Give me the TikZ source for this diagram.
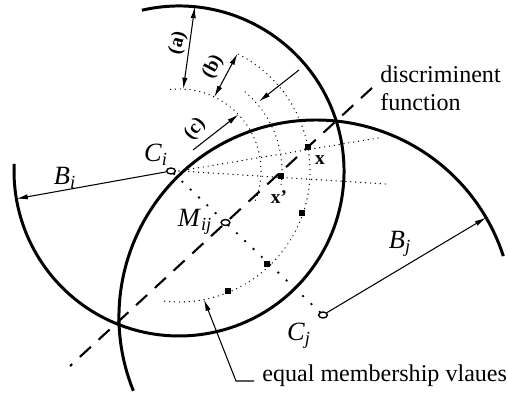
\documentclass[tikz,border=0pt]{standalone}
\usepackage{fontspec}
\setmainfont{Liberation Serif}
\usetikzlibrary{arrows.meta, positioning, shapes.geometric, calc}
\newcommand{\clbl}[2]{\textit{#1}\textsubscript{\textit{#2}}}

\begin{document}
\begin{tikzpicture}[x=0.02cm, y=0.02cm,
  boundary/.style={line width=1.7pt},
  dotarc/.style={line width=0.8pt, line cap=round, dash pattern=on 0pt off 2.8pt},
  centreline/.style={line width=1.5pt, line cap=round, dash pattern=on 0pt off 6.5pt},
  discrim/.style={line width=1.2pt, dash pattern=on 8.5pt off 6pt},
  dimarrow/.style={line width=0.6pt, {Latex[length=6.5pt,width=3pt]}-{Latex[length=6.5pt,width=3pt]}},
  ptarrow/.style={line width=0.6pt, -{Latex[length=6.5pt,width=3pt]}},
  centre/.style={draw, ellipse, line width=0.8pt, fill=white, minimum width=5pt, minimum height=3.4pt, inner sep=0pt},
  sample/.style={fill, rectangle, minimum size=3.6pt, inner sep=0pt},
  lettr/.style={font=\fontsize{11}{13}\selectfont\bfseries, inner sep=0pt},
  mathlbl/.style={font=\fontsize{15}{17}\selectfont, inner sep=0pt},
  caption/.style={font=\fontsize{13.7}{16}\selectfont, inner sep=0pt, align=left}
]
\useasboundingbox (0,0) rectangle (508,394);

% circle centres
\coordinate (Oi) at (179,223);
\coordinate (Oj) at (316,77);

% class boundaries
\draw[boundary] (Oi) ++(103:165) arc[start angle=103, end angle=-182.5, radius=165];
\draw[boundary] (Oj) ++(202:197) arc[start angle=202, end angle=18, radius=197];

% dotted contours and rays
\draw[dotarc] (Oi) ++(96:82) arc[start angle=96, end angle=-24, radius=82];
\draw[dotarc] (Oi) ++(50:103) arc[start angle=50, end angle=-8, radius=103];
\draw[dotarc] (Oi) ++(63:131) arc[start angle=63, end angle=-97, radius=131];
\draw[dotarc] (Oi) -- ++(9.4:203);
\draw[dotarc] (Oi) -- ++(-3.6:207);

% discriminent function
\coordinate (D1) at (372,306);
\coordinate (D2) at (70,28);
\draw[discrim] (D1) -- (D2);

% centres and samples
\node[centre] (Ci) at (171,223) {};
\node[centre] (Cj) at (323,79) {};
\node[centre] (Mij) at (225.5,171.5) {};
\node[sample] (px) at (308,247) {};
\node[sample] (pxp) at (281,218) {};
\node[sample] (p3) at (302,181) {};
\node[sample] (p4) at (267,130) {};
\node[sample] (p5) at (228,103) {};

\draw[centreline] (Ci) -- (Mij) -- (Cj);

% radii
\draw[ptarrow] (Ci) -- ($(Oi)+(189.7:165)$);
\draw[ptarrow] (Cj) -- ($(Oj)+(30.3:197)$);

% widths (a) (b) (c)
\draw[dimarrow] ($(Oi)+(87:82)$) -- ($(Oi)+(84.5:165)$);
\draw[dimarrow] ($(Oi)+(64.5:82)$) -- ($(Oi)+(63.5:131)$);
\coordinate (c1) at (193,244);
\coordinate (c2) at (299,324);
\draw[ptarrow] (c1) -- ($(Oi)+(43.5:82)$);
\draw[ptarrow] (c2) -- ($(Oi)+(41:106)$);

\node[lettr, rotate=75] (la) at (178,351) {(a)};
\node[lettr, rotate=62] (lb) at (213,327) {(b)};
\node[lettr, rotate=50] (lc) at (195,265) {(c)};

% labels
\node[mathlbl] (CiL) at (156,239) {\clbl{C}{i}};
\node[mathlbl] (BiL) at (65,216) {\clbl{B}{i}};
\node[mathlbl] (MijL) at (195,172) {\clbl{M}{ij}};
\node[mathlbl] (CjL) at (299,58) {\clbl{C}{j}};
\node[mathlbl] (BjL) at (400,150) {\clbl{B}{j}};
\node[lettr] (xL) at (320,234) {x};
\node[lettr] (xpL) at (279,197) {x'};

\node[caption, anchor=north west] (dtxt) at (380,329) {discriminent\\function};
\node[caption, anchor=base west] (eqtxt) at (262,12) {equal membership vlaues};
\coordinate (eq) at ($(Oi)+(-79:131)$);
\coordinate (bend) at (236,13);
\draw[ptarrow] ($(eqtxt.base west)+(-8,1)$) -- (bend) -- (eq);
\end{tikzpicture}
\end{document}
